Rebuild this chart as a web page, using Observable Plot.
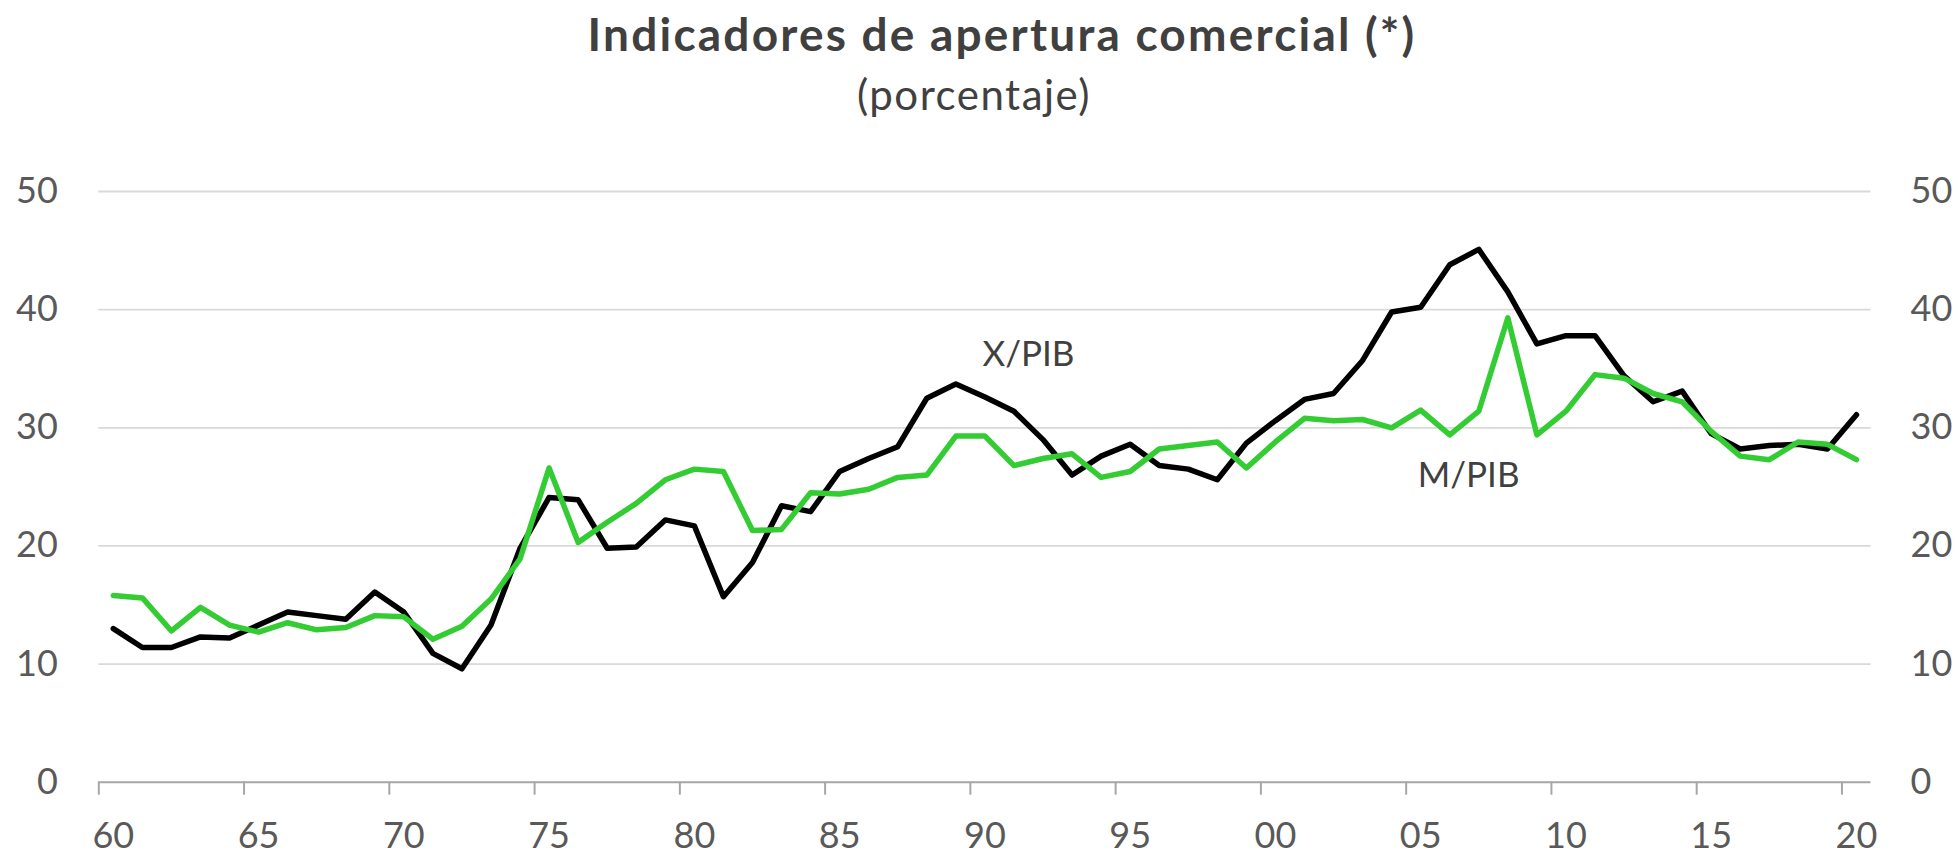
<!DOCTYPE html>
<html>
<head>
<meta charset="utf-8">
<script src="https://cdn.jsdelivr.net/npm/d3@7"></script>
<script src="https://cdn.jsdelivr.net/npm/@observablehq/plot@0.6"></script>
<style>
  html, body { margin: 0; padding: 0; background: #fff; }
  #wrap { position: relative; width: 1959px; height: 855px; overflow: hidden; }
  .title { position: absolute; text-align: center; font-family: Lato, "Open Sans", sans-serif; color: #404040; white-space: nowrap; line-height: 1.2; }
  #t1 { top: 5.5px; left: 402px; width: 1200px; font-size: 46px; font-weight: 700; letter-spacing: 2.2px; }
  #t2 { top: 68.5px; left: 674px; width: 600px; font-size: 42px; font-weight: 400; letter-spacing: 1.5px; }
  #chart { position: absolute; left: 0; top: 140px; }
</style>
</head>
<body>
<div id="wrap">
  <div class="title" id="t1">Indicadores de apertura comercial (*)</div>
  <div class="title" id="t2">(porcentaje)</div>
  <div id="chart"></div>
</div>
<script>
const years = d3.range(1960, 2021);
const xPib = [13.0, 11.4, 11.4, 12.3, 12.2, 13.3, 14.4, 14.1, 13.8, 16.1,
              14.4, 10.9, 9.6, 13.3, 19.8, 24.1, 23.9, 19.8, 19.9, 22.2,
              21.7, 15.7, 18.6, 23.4, 22.9, 26.3, 27.4, 28.4, 32.5, 33.7,
              32.6, 31.4, 29.0, 26.0, 27.6, 28.6, 26.8, 26.5, 25.6, 28.7,
              30.6, 32.4, 32.9, 35.7, 39.8, 40.2, 43.8, 45.1, 41.5, 37.1,
              37.8, 37.8, 34.4, 32.2, 33.1, 29.5, 28.2, 28.5, 28.6, 28.2, 31.1];
const mPib = [15.8, 15.6, 12.8, 14.8, 13.3, 12.7, 13.5, 12.9, 13.1, 14.1,
              14.0, 12.1, 13.2, 15.5, 18.9, 26.6, 20.3, 22.0, 23.6, 25.6,
              26.5, 26.3, 21.3, 21.4, 24.5, 24.4, 24.8, 25.8, 26.0, 29.3,
              29.3, 26.8, 27.4, 27.8, 25.8, 26.3, 28.2, 28.5, 28.8, 26.6,
              28.8, 30.8, 30.6, 30.7, 30.0, 31.5, 29.4, 31.4, 39.3, 29.4,
              31.4, 34.5, 34.2, 32.9, 32.2, 29.7, 27.6, 27.3, 28.8, 28.6, 27.3];
const xTickLabels = [1960, 1965, 1970, 1975, 1980, 1985, 1990, 1995, 2000, 2005, 2010, 2015, 2020];
const yTicks = [0, 10, 20, 30, 40, 50];
const seriesLabels = [
  {text: "X/PIB", year: 1991.5, value: 36.15},
  {text: "M/PIB", year: 2006.65, value: 25.9}
];

const xRows = years.map((y, i) => ({year: y, value: xPib[i]}));
const mRows = years.map((y, i) => ({year: y, value: mPib[i]}));
const fmtYear = d => String(d % 100).padStart(2, "0");

const plot = Plot.plot({
  width: 1959,
  height: 715,
  marginLeft: 98.3,
  marginRight: 88.5,
  marginTop: 51,
  marginBottom: 73.3,
  style: {fontFamily: "Lato, 'Open Sans', sans-serif", background: "#fff", overflow: "visible"},
  x: {domain: [1959.5, 2020.5]},
  y: {domain: [0, 50]},
  marks: [
    Plot.gridY(yTicks.filter(d => d > 0), {stroke: "#d9d9d9", strokeOpacity: 1, strokeWidth: 1.8}),
    Plot.ruleY([0], {stroke: "#a6a6a6", strokeWidth: 2}),
    Plot.axisX(xTickLabels.map(d => d - 0.5), {tickSize: 13, stroke: "#a6a6a6", strokeWidth: 2, tickFormat: () => "", label: null}),
    Plot.axisX(xTickLabels, {tickSize: 0, tickPadding: 40, tickFormat: fmtYear, fontSize: 36, fill: "#595959", label: null}),
    Plot.axisY(yTicks, {anchor: "left", tickSize: 0, tickPadding: 41, fontSize: 36, fill: "#595959", label: null}),
    Plot.axisY(yTicks, {anchor: "right", tickSize: 0, tickPadding: 39.5, fontSize: 36, fill: "#595959", label: null}),
    Plot.line(xRows, {x: "year", y: "value", stroke: "#000000", strokeWidth: 5.5, strokeLinejoin: "round", strokeLinecap: "round"}),
    Plot.line(mRows, {x: "year", y: "value", stroke: "#33cc33", strokeWidth: 5.5, strokeLinejoin: "round", strokeLinecap: "round"}),
    Plot.text(seriesLabels, {x: "year", y: "value", text: "text", fontSize: 35, fill: "#404040", textAnchor: "middle", lineAnchor: "middle"})
  ]
});
document.getElementById("chart").appendChild(plot);
</script>
</body>
</html>
